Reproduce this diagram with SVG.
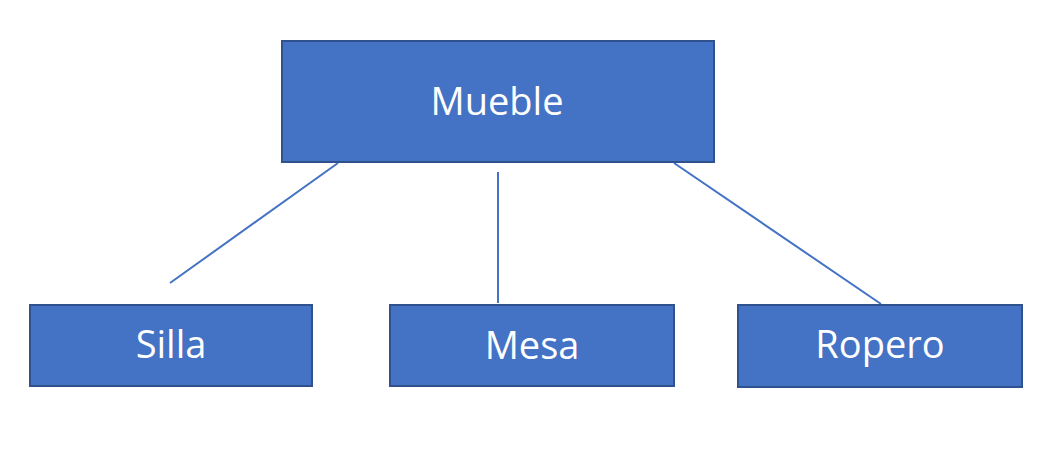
<svg xmlns="http://www.w3.org/2000/svg" width="1062" height="472" viewBox="0 0 1062 472">
<style>
.box{fill:#4472C4;stroke:#2F528F;stroke-width:2}
.lbl{fill:#FFFFFF;font-family:"Open Sans","Liberation Sans",sans-serif;font-size:38px;text-anchor:middle}
.conn{stroke:#4472C4;stroke-width:2;fill:none}
</style>
<rect width="1062" height="472" fill="#FFFFFF"/>
<g id="connectors">
<line class="conn" x1="338" y1="163" x2="170" y2="283"/>
<line class="conn" x1="498" y1="172" x2="498" y2="303"/>
<line class="conn" x1="674" y1="163" x2="881" y2="304"/>
</g>
<g id="mueble">
<rect class="box" x="282" y="41" width="432" height="121"/>
<text class="lbl" x="497" y="115">Mueble</text>
</g>
<g id="silla">
<rect class="box" x="30" y="305" width="282" height="81"/>
<text class="lbl" x="171" y="358">Silla</text>
</g>
<g id="mesa">
<rect class="box" x="390" y="305" width="284" height="81"/>
<text class="lbl" x="532" y="359">Mesa</text>
</g>
<g id="ropero">
<rect class="box" x="738" y="305" width="284" height="82"/>
<text class="lbl" x="880" y="358">Ropero</text>
</g>
</svg>
